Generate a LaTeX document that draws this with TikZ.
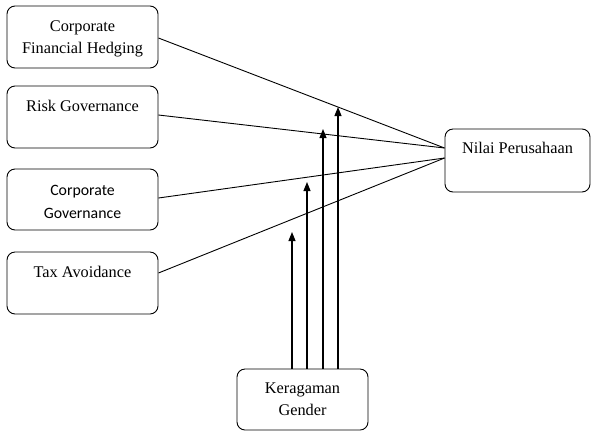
\documentclass[tikz,border=0pt]{standalone}
\usepackage{fontspec}
\setmainfont{Liberation Serif}
\newfontfamily\calib{Carlito}
\usetikzlibrary{arrows.meta,calc}
\begin{document}
\begin{tikzpicture}[x=1pt,y=-1pt,
  box/.style={draw,line width=0.9pt,rounded corners=8pt,inner sep=0pt},
  txt/.style={anchor=north,align=center,inner sep=0pt,font=\fontsize{16.3}{22.5}\selectfont},
  link/.style={line width=0.9pt},
  up/.style={line width=1.1pt,-{Triangle[width=7pt,length=9pt]}}]
\useasboundingbox (0,0) rectangle (591,432);
% boxes
\node[box,minimum width=151pt,minimum height=62pt] (b1) at (82.5,37) {};
\node[box,minimum width=151pt,minimum height=62pt] (b2) at (82.5,117) {};
\node[box,minimum width=151pt,minimum height=61pt] (b3) at (82.5,199.5) {};
\node[box,minimum width=151pt,minimum height=62pt] (b4) at (82.5,283) {};
\node[box,minimum width=145pt,minimum height=63pt] (nv) at (517.5,160.5) {};
\node[box,minimum width=131pt,minimum height=61pt] (kg) at (302.5,399.5) {};
% texts
\node[txt] (t1) at (82.5,20.5) {Corporate\\Financial Hedging};
\node[txt] (t2) at (82.5,100) {Risk Governance};
\node[txt,font=\calib\fontsize{15.8}{23.3}\selectfont] (t3) at (82.5,185) {Corporate\\Governance};
\node[txt] (t4) at (82.5,266) {Tax Avoidance};
\node[txt] (t5) at (517.5,142) {Nilai Perusahaan};
\node[txt,font=\fontsize{16.3}{22}\selectfont] (t6) at (302.5,383) {Keragaman\\Gender};
% connector endpoints
\coordinate (s1) at ($(b1.east)+(0,1)$);
\coordinate (s2) at ($(b2.east)+(0,-2)$);
\coordinate (s3) at ($(b3.east)+(0,-1.5)$);
\coordinate (s4) at ($(b4.east)+(0,-10)$);
\coordinate (n1) at ($(nv.west)+(0,-12.5)$);
\coordinate (n2) at ($(nv.west)+(0,-2.5)$);
\draw[link] (s1) -- (n1);
\draw[link] (s2) -- (n1);
\draw[link] (s3) -- (n2);
\draw[link] (s4) -- (n2);
% moderating arrows
\coordinate (a1) at (292,232);
\coordinate (a2) at (307,182);
\coordinate (a3) at (323,129);
\coordinate (a4) at (338,107);
\draw[up] (kg.north -| a1) -- (a1);
\draw[up] (kg.north -| a2) -- (a2);
\draw[up] (kg.north -| a3) -- (a3);
\draw[up] (kg.north -| a4) -- (a4);
\end{tikzpicture}
\end{document}
